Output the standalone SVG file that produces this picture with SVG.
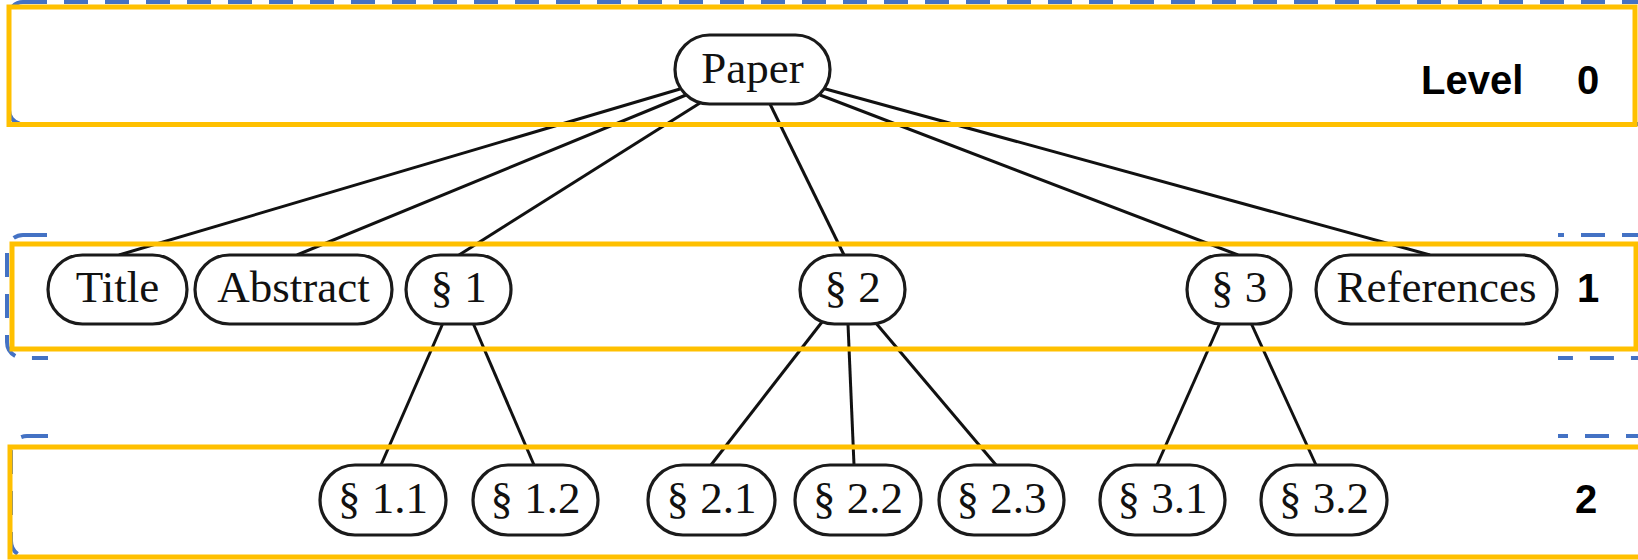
<svg xmlns="http://www.w3.org/2000/svg" width="1638" height="560" viewBox="0 0 1638 560">
<style>
.blue{fill:none;stroke:#4472C4;stroke-width:4;stroke-dasharray:24 17}
.yel{fill:none;stroke:#FFC000;stroke-width:5}
.node rect{fill:#fff;stroke:#1a1a1a;stroke-width:3.2}
.node text{font-family:"Liberation Serif","Times New Roman",serif;font-size:45px;fill:#111;text-anchor:middle}
.edge line{stroke:#111;stroke-width:3}
.lvl{font-family:"Liberation Sans",Arial,sans-serif;font-weight:bold;font-size:40px;fill:#000}
</style>
<rect width="1638" height="560" fill="#fff"/>
<g id="bands-blue">
<rect class="blue" x="9" y="2" width="1700" height="122" rx="14"/>
<rect class="blue" x="7" y="235" width="1700" height="123" rx="16"/>
<rect class="blue" x="11" y="436" width="1700" height="121" rx="16"/>
</g>
<rect x="48" y="5" width="1510" height="555" fill="#fff"/>
<g id="connectors" class="edge">
<line x1="680" y1="89" x2="119" y2="255"/>
<line x1="686" y1="95" x2="297" y2="255"/>
<line x1="700" y1="103" x2="459" y2="255"/>
<line x1="770" y1="104" x2="844" y2="255"/>
<line x1="820" y1="95" x2="1238" y2="255"/>
<line x1="822" y1="88" x2="1430" y2="255"/>
<line x1="443" y1="323" x2="381" y2="465"/>
<line x1="473" y1="323" x2="534" y2="465"/>
<line x1="822" y1="322" x2="711" y2="465"/>
<line x1="848" y1="324" x2="854" y2="465"/>
<line x1="875" y1="322" x2="996" y2="465"/>
<line x1="1220" y1="323" x2="1157" y2="465"/>
<line x1="1251" y1="323" x2="1316" y2="465"/>
</g>
<g id="n-paper" class="node"><rect x="675" y="35" width="155" height="69" rx="34.5"/><text x="752.5" y="83">Paper</text></g>
<g id="n-title" class="node"><rect x="48" y="255" width="139" height="69" rx="34.5"/><text x="117.5" y="302">Title</text></g>
<g id="n-abstract" class="node"><rect x="195" y="255" width="197" height="69" rx="34.5"/><text x="293.5" y="302">Abstract</text></g>
<g id="n-s1" class="node"><rect x="406" y="255" width="105" height="69" rx="34.5"/><text x="458.5" y="302">§ 1</text></g>
<g id="n-s2" class="node"><rect x="800" y="255" width="105" height="69" rx="34.5"/><text x="852.5" y="302">§ 2</text></g>
<g id="n-s3" class="node"><rect x="1187" y="255" width="104" height="69" rx="34.5"/><text x="1239" y="302">§ 3</text></g>
<g id="n-references" class="node"><rect x="1316" y="255" width="241" height="69" rx="34.5"/><text x="1436.5" y="302">References</text></g>
<g id="n-s11" class="node"><rect x="320" y="465" width="126" height="70" rx="35"/><text x="383" y="513">§ 1.1</text></g>
<g id="n-s12" class="node"><rect x="473" y="465" width="125" height="70" rx="35"/><text x="535.5" y="513">§ 1.2</text></g>
<g id="n-s21" class="node"><rect x="648" y="465" width="127" height="70" rx="35"/><text x="711.5" y="513">§ 2.1</text></g>
<g id="n-s22" class="node"><rect x="795" y="465" width="126" height="70" rx="35"/><text x="858" y="513">§ 2.2</text></g>
<g id="n-s23" class="node"><rect x="939" y="465" width="125" height="70" rx="35"/><text x="1001.5" y="513">§ 2.3</text></g>
<g id="n-s31" class="node"><rect x="1100" y="465" width="125" height="70" rx="35"/><text x="1162.5" y="513">§ 3.1</text></g>
<g id="n-s32" class="node"><rect x="1261" y="465" width="126" height="70" rx="35"/><text x="1324" y="513">§ 3.2</text></g>
<g id="bands-yellow">
<rect class="yel" x="9" y="7" width="1626" height="117.5"/>
<rect class="yel" x="12" y="244" width="1624" height="105"/>
<rect class="yel" x="10" y="447" width="1640" height="110"/>
</g>
<g id="level-labels">
<text class="lvl" y="94"><tspan x="1421">Level</tspan><tspan x="1577">0</tspan></text>
<text class="lvl" x="1588" y="302" text-anchor="middle">1</text>
<text class="lvl" x="1586" y="513" text-anchor="middle">2</text>
</g>
</svg>
